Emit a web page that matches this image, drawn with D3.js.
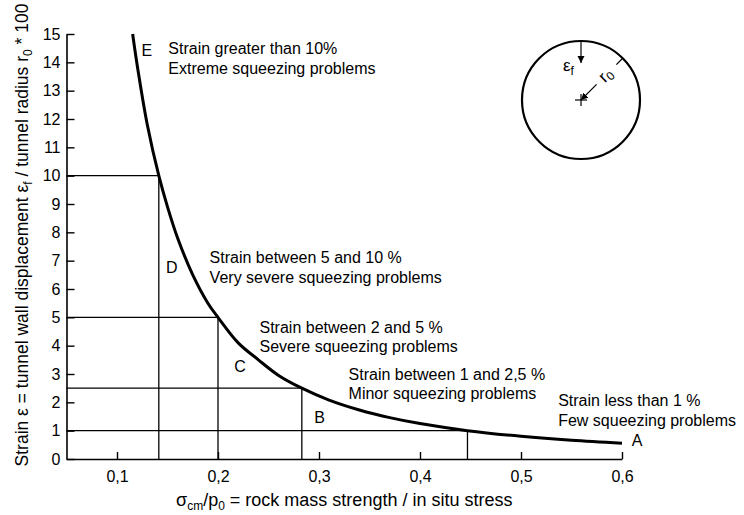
<!DOCTYPE html>
<html>
<head>
<meta charset="utf-8">
<script src="https://cdn.jsdelivr.net/npm/d3@7"></script>
<style>
  html, body { margin: 0; padding: 0; background: #fff; }
  svg { display: block; font-family: "Liberation Sans", Arial, Helvetica, sans-serif; }
</style>
</head>
<body>
<svg id="chart" width="744" height="515"></svg>
<script>
// Squeezing curve: strain vs. rock mass strength / in situ stress
const ratioValues  = [0.1155, 0.12, 0.13, 0.1414, 0.15, 0.16, 0.175, 0.19, 0.2, 0.22, 0.24, 0.26, 0.283, 0.31, 0.34, 0.37, 0.4, 0.447, 0.5, 0.55, 0.6];
const strainValues = [15.0, 13.9, 11.8, 10.0, 8.9, 7.8, 6.5, 5.5, 5.0, 4.1, 3.5, 2.95, 2.5, 2.08, 1.73, 1.46, 1.25, 1.0, 0.8, 0.66, 0.56];

// Class boundaries (corner points on the curve)
const boundaryRatio  = [0.1414, 0.2, 0.283, 0.447];
const boundaryStrain = [10, 5, 2.5, 1];

// Class letters and descriptions
const classLetters = ["A", "B", "C", "D", "E"];
const classLine1 = ["Strain less than 1 %", "Strain between 1 and 2,5 %", "Strain between 2 and 5 %", "Strain between 5 and 10 %", "Strain greater than 10%"];
const classLine2 = ["Few squeezing problems", "Minor squeezing problems", "Severe squeezing problems", "Very severe squeezing problems", "Extreme squeezing problems"];

// Axis ticks
const xTickValues = [0.1, 0.2, 0.3, 0.4, 0.5, 0.6];
const xTickLabels = ["0,1", "0,2", "0,3", "0,4", "0,5", "0,6"];
const yTickValues = d3.range(0, 16);

const svg = d3.select("#chart");

const x = d3.scaleLinear().domain([0.05, 0.6]).range([66.5, 622]);
const y = d3.scaleLinear().domain([0, 15]).range([459, 34]);

// Axes (ticks point inward)
const xAxis = d3.axisBottom(x)
  .tickValues(xTickValues)
  .tickFormat((d, i) => xTickLabels[i])
  .tickSizeInner(-7).tickSizeOuter(0).tickPadding(12);
const yAxis = d3.axisLeft(y)
  .tickValues(yTickValues)
  .tickSizeInner(-8).tickSizeOuter(0).tickPadding(6);

const gx = svg.append("g").attr("transform", `translate(0,${y(0)})`).call(xAxis);
const gy = svg.append("g").attr("transform", `translate(${x(0.05)},0)`).call(yAxis);
[gx, gy].forEach(g => {
  g.attr("font-size", 16).attr("font-family", "Liberation Sans, Arial, sans-serif");
  g.selectAll("path.domain").attr("stroke", "#000").attr("stroke-width", 1.6);
  g.selectAll(".tick line").attr("stroke", "#000").attr("stroke-width", 1.4);
  g.selectAll(".tick text").attr("fill", "#000").style("font-size", "16px");
});

// Boundary lines
const refs = svg.append("g").attr("stroke", "#000").attr("stroke-width", 1.3);
boundaryRatio.forEach((r, i) => {
  const s = boundaryStrain[i];
  refs.append("line").attr("x1", x(0.05)).attr("x2", x(r)).attr("y1", y(s)).attr("y2", y(s));
  refs.append("line").attr("x1", x(r)).attr("x2", x(r)).attr("y1", y(0)).attr("y2", y(s));
});

// Squeezing curve
const pts = ratioValues.map((r, i) => [r, strainValues[i]]);
svg.append("path")
  .datum(pts)
  .attr("fill", "none")
  .attr("stroke", "#000")
  .attr("stroke-width", 3)
  .attr("d", d3.line().x(d => x(d[0])).y(d => y(d[1])).curve(d3.curveCatmullRom.alpha(0.5)));

// Class letters
const letterPos = [[0.615, 0.47], [0.3005, 1.27], [0.2219, 3.07], [0.1543, 6.56], [0.1295, 14.24]];
svg.append("g").selectAll("text").data(classLetters).join("text")
  .attr("x", (d, i) => x(letterPos[i][0]))
  .attr("y", (d, i) => y(letterPos[i][1]))
  .attr("text-anchor", "middle")
  .attr("font-size", 16)
  .text(d => d);

// Class descriptions
const descPos = [[0.5368, 1.87], [0.3293, 2.79], [0.2411, 4.46], [0.1917, 6.91], [0.1508, 14.28]];
const desc = svg.append("g").attr("font-size", 16);
classLine1.forEach((t, i) => {
  const tx = desc.append("text").attr("x", x(descPos[i][0])).attr("y", y(descPos[i][1]));
  tx.append("tspan").text(t);
  tx.append("tspan").attr("x", x(descPos[i][0])).attr("dy", 19.5).text(classLine2[i]);
});

// Axis titles
const xt = svg.append("text")
  .attr("x", (x(0.05) + x(0.6)) / 2).attr("y", 506)
  .attr("text-anchor", "middle").attr("font-size", 18);
xt.append("tspan").text("σ");
xt.append("tspan").attr("font-size", 12).attr("dy", 4).text("cm");
xt.append("tspan").attr("dy", -4).text("/p");
xt.append("tspan").attr("font-size", 12).attr("dy", 4).text("0");
xt.append("tspan").attr("dy", -4).text(" = rock mass strength / in situ stress");

const yt = svg.append("text")
  .attr("transform", `translate(28,235) rotate(-90)`)
  .attr("text-anchor", "middle").attr("font-size", 17.5);
yt.append("tspan").text("Strain ε = tunnel wall displacement ε");
yt.append("tspan").attr("font-size", 12).attr("dy", 4).text("f");
yt.append("tspan").attr("dy", -4).text(" / tunnel radius r");
yt.append("tspan").attr("font-size", 12).attr("dy", 4).text("0");
yt.append("tspan").attr("dy", -4).text(" * 100");

// Tunnel cross-section inset
const cx = 581, cy = 100, rad = 59;
const defs = svg.append("defs");
defs.append("marker").attr("id", "arr").attr("viewBox", "0 0 10 10")
  .attr("refX", 10).attr("refY", 5).attr("markerWidth", 7).attr("markerHeight", 8)
  .attr("markerUnits", "userSpaceOnUse").attr("orient", "auto")
  .append("path").attr("d", "M0,0 L10,5 L0,10 Z").attr("fill", "#000");

const inset = svg.append("g");
inset.append("circle").attr("cx", cx).attr("cy", cy).attr("r", rad)
  .attr("fill", "none").attr("stroke", "#000").attr("stroke-width", 2.2);
// wall displacement arrow
inset.append("line").attr("x1", cx).attr("y1", cy - rad).attr("x2", cx).attr("y2", cy - rad + 22)
  .attr("stroke", "#000").attr("stroke-width", 1.2).attr("marker-end", "url(#arr)");
const ef = inset.append("text").attr("x", 563).attr("y", 71).attr("font-size", 17);
ef.append("tspan").text("ε");
ef.append("tspan").attr("font-size", 12).attr("dy", 4).text("f");
// centre cross
inset.append("line").attr("x1", cx - 6).attr("x2", cx + 6).attr("y1", cy).attr("y2", cy).attr("stroke", "#000").attr("stroke-width", 1.2);
inset.append("line").attr("x1", cx).attr("x2", cx).attr("y1", cy - 6).attr("y2", cy + 6).attr("stroke", "#000").attr("stroke-width", 1.2);
// radius
const ang = -Math.PI / 4;
const px = (d) => cx + d * Math.cos(ang), py = (d) => cy + d * Math.sin(ang);
inset.append("line").attr("x1", px(rad)).attr("y1", py(rad)).attr("x2", px(rad - 9)).attr("y2", py(rad - 9))
  .attr("stroke", "#000").attr("stroke-width", 1.2);
inset.append("line").attr("x1", px(22)).attr("y1", py(22)).attr("x2", px(0)).attr("y2", py(0))
  .attr("stroke", "#000").attr("stroke-width", 1.2).attr("marker-end", "url(#arr)");
const r0 = inset.append("text")
  .attr("transform", `translate(${px(35)},${py(35)}) rotate(-45)`)
  .attr("text-anchor", "middle").attr("dy", 5).attr("font-size", 17);
r0.append("tspan").text("r");
r0.append("tspan").attr("font-size", 12).attr("dy", 3).text("0");
</script>
</body>
</html>
